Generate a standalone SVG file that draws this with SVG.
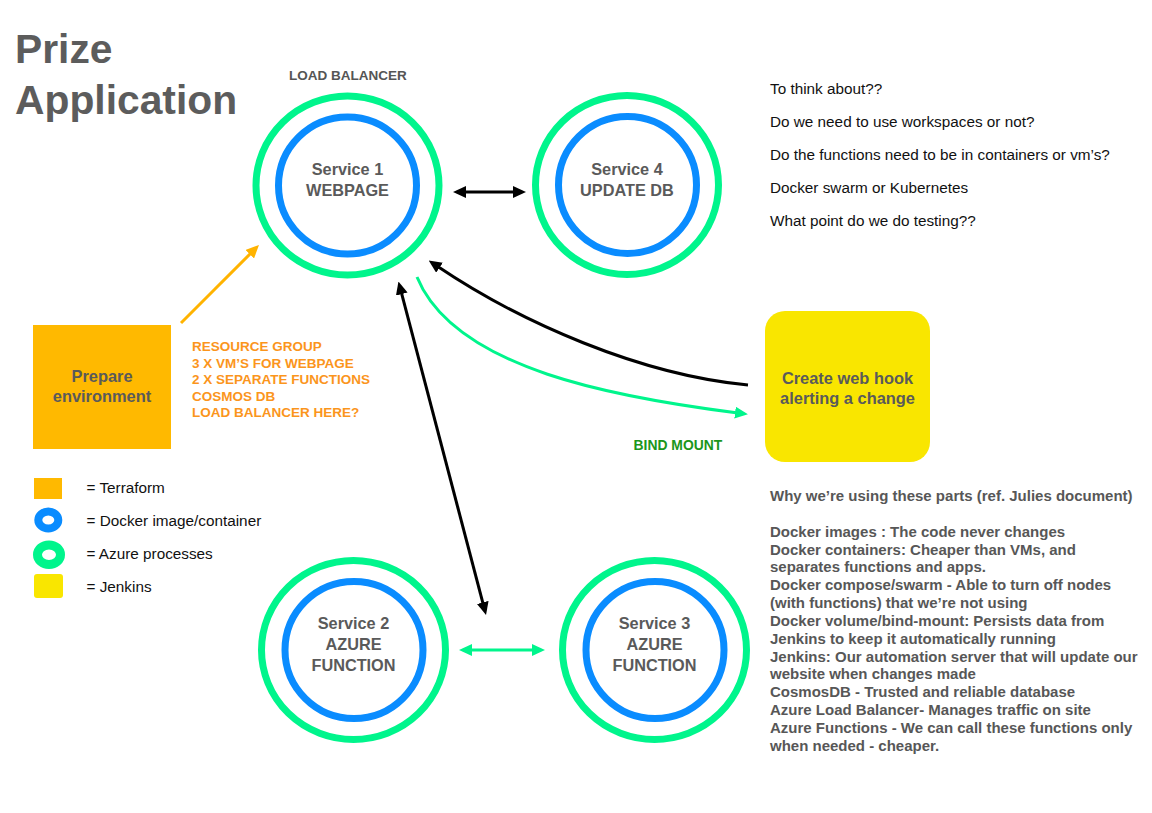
<svg xmlns="http://www.w3.org/2000/svg" width="1152" height="813" viewBox="0 0 1152 813">
<style>
text{font-family:"Liberation Sans",Arial,Helvetica,sans-serif}
.title{font-size:40.8px;font-weight:bold;fill:#5c5c5c}
.lbl{font-size:13.5px;font-weight:bold;fill:#555}
.node{font-size:16.3px;font-weight:bold;fill:#5a5a5a;text-anchor:middle}
.box{font-size:16.4px;font-weight:bold;fill:#5a5a5a;text-anchor:middle}
.note{font-size:15.3px;fill:#111}
.why{font-size:15px;font-weight:bold;fill:#575757}
.orange{font-size:13.5px;font-weight:bold;fill:#fb951c}
.bind{font-size:13.9px;font-weight:bold;fill:#1b961b}
.green{fill:none;stroke:#00f58c;stroke-width:7}
.blue{fill:none;stroke:#0a8cff;stroke-width:7}
.blk{fill:none;stroke:#000;stroke-width:3}
.grn{fill:none;stroke:#00f58c;stroke-width:3}
.org{fill:none;stroke:#ffb300;stroke-width:3}
</style>
<defs>
<marker id="ab" viewBox="0 0 13 12" refX="3" refY="6" markerWidth="13" markerHeight="12" markerUnits="userSpaceOnUse" orient="auto-start-reverse"><path d="M0,0 L13,6 L0,12 z" fill="#000"/></marker>
<marker id="ag" viewBox="0 0 13 12" refX="3" refY="6" markerWidth="13" markerHeight="12" markerUnits="userSpaceOnUse" orient="auto-start-reverse"><path d="M0,0 L13,6 L0,12 z" fill="#00f58c"/></marker>
<marker id="ao" viewBox="0 0 13 12" refX="3" refY="6" markerWidth="13" markerHeight="12" markerUnits="userSpaceOnUse" orient="auto-start-reverse"><path d="M0,0 L13,6 L0,12 z" fill="#ffb300"/></marker>
</defs>
<rect width="1152" height="813" fill="#fff"/>

<g id="title">
<text class="title" x="15" y="63">Prize</text>
<text class="title" x="15" y="114">Application</text>
</g>

<g id="load-balancer-label"><text class="lbl" x="289" y="80">LOAD BALANCER</text></g>

<g id="service1">
<ellipse class="green" cx="347.5" cy="185.5" rx="91.5" ry="89.5"/>
<ellipse class="blue" cx="347.5" cy="185.5" rx="69" ry="68.5"/>
<text class="node" x="347.5" y="175">Service 1</text>
<text class="node" x="347.5" y="196">WEBPAGE</text>
</g>

<g id="service4">
<ellipse class="green" cx="627" cy="185" rx="91.5" ry="89.5"/>
<ellipse class="blue" cx="627.5" cy="185" rx="69" ry="68.5"/>
<text class="node" x="627" y="175">Service 4</text>
<text class="node" x="627" y="196">UPDATE DB</text>
</g>

<g id="service2">
<ellipse class="green" cx="353.5" cy="650" rx="92" ry="89.5"/>
<ellipse class="blue" cx="354" cy="650" rx="69" ry="68.5"/>
<text class="node" x="353.5" y="629">Service 2</text>
<text class="node" x="353.5" y="650">AZURE</text>
<text class="node" x="353.5" y="671">FUNCTION</text>
</g>

<g id="service3">
<ellipse class="green" cx="654.5" cy="650" rx="92" ry="89.5"/>
<ellipse class="blue" cx="655" cy="650" rx="69" ry="68.5"/>
<text class="node" x="654.5" y="629">Service 3</text>
<text class="node" x="654.5" y="650">AZURE</text>
<text class="node" x="654.5" y="671">FUNCTION</text>
</g>

<g id="prepare-environment">
<rect x="33" y="325" width="138" height="124" fill="#ffb900"/>
<text class="box" x="102" y="382">Prepare</text>
<text class="box" x="102" y="402">environment</text>
</g>

<g id="terraform-notes">
<text class="orange" x="192" y="351">RESOURCE GROUP</text>
<text class="orange" x="192" y="367.5">3 X VM’S FOR WEBPAGE</text>
<text class="orange" x="192" y="384">2 X SEPARATE FUNCTIONS</text>
<text class="orange" x="192" y="400.5">COSMOS DB</text>
<text class="orange" x="192" y="417">LOAD BALANCER HERE?</text>
</g>

<g id="webhook">
<rect x="765" y="311" width="165" height="151" rx="20" ry="20" fill="#f9e600"/>
<text class="box" x="847.5" y="383.5">Create web hook</text>
<text class="box" x="847.5" y="403.5">alerting a change</text>
</g>

<g id="bind-mount-label"><text class="bind" x="633.5" y="450">BIND MOUNT</text></g>

<g id="questions">
<text class="note" x="770" y="94">To think about??</text>
<text class="note" x="770" y="127">Do we need to use workspaces or not?</text>
<text class="note" x="770" y="160">Do the functions need to be in containers or vm’s?</text>
<text class="note" x="770" y="193">Docker swarm or Kubernetes</text>
<text class="note" x="770" y="226">What point do we do testing??</text>
</g>

<g id="legend">
<rect x="34" y="478" width="28" height="21" fill="#ffb900"/>
<ellipse cx="48.3" cy="520" rx="10" ry="8.5" fill="none" stroke="#0a8cff" stroke-width="8"/>
<ellipse cx="49" cy="554.7" rx="11.5" ry="9.8" fill="none" stroke="#00f58c" stroke-width="9"/>
<rect x="34" y="574" width="29" height="24" rx="3" fill="#f9e600"/>
<text class="note" x="86.5" y="493">= Terraform</text>
<text class="note" x="86.5" y="526">= Docker image/container</text>
<text class="note" x="86.5" y="559">= Azure processes</text>
<text class="note" x="86.5" y="592">= Jenkins</text>
</g>

<g id="reasons">
<text class="why" x="770" y="501">Why we’re using these parts (ref. Julies document)</text>
<text class="why" x="770" y="536.7">Docker images : The code never changes</text>
<text class="why" x="770" y="554.5">Docker containers: Cheaper than VMs, and</text>
<text class="why" x="770" y="572.4">separates functions and apps.</text>
<text class="why" x="770" y="590.2">Docker compose/swarm - Able to turn off nodes</text>
<text class="why" x="770" y="608">(with functions) that we’re not using</text>
<text class="why" x="770" y="625.9">Docker volume/bind-mount: Persists data from</text>
<text class="why" x="770" y="643.7">Jenkins to keep it automatically running</text>
<text class="why" x="770" y="661.5">Jenkins: Our automation server that will update our</text>
<text class="why" x="770" y="679.3">website when changes made</text>
<text class="why" x="770" y="697.2">CosmosDB - Trusted and reliable database</text>
<text class="why" x="770" y="715">Azure Load Balancer- Manages traffic on site</text>
<text class="why" x="770" y="732.8">Azure Functions - We can call these functions only</text>
<text class="why" x="770" y="750.7">when needed - cheaper.</text>
</g>

<g id="connectors">
<path class="blk" d="M463,192 L516,192" marker-start="url(#ab)" marker-end="url(#ab)"/>
<path class="blk" d="M401,291.2 L483.5,605.3" marker-start="url(#ab)" marker-end="url(#ab)"/>
<path class="grn" d="M469,650 L535,650" marker-start="url(#ag)" marker-end="url(#ag)"/>
<path class="org" d="M181,323 L251.9,252.1" marker-end="url(#ao)"/>
<path class="blk" d="M748,385 C640,375 520,322 437,266" marker-end="url(#ab)"/>
<path class="grn" d="M417,277 C455,370 620,398 738,413" marker-end="url(#ag)"/>
</g>
</svg>
